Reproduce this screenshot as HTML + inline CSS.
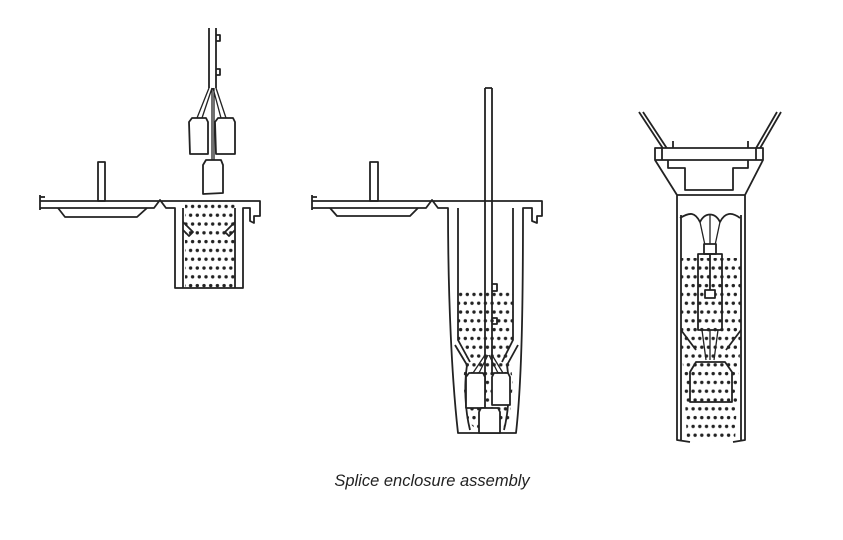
<!DOCTYPE html>
<html><head><meta charset="utf-8"><style>
html,body{margin:0;padding:0;background:#fff;}
svg{display:block}
</style></head><body>
<svg width="843" height="540" viewBox="0 0 843 540" xmlns="http://www.w3.org/2000/svg">
<defs>
<pattern id="g" x="0" y="0" width="13.4" height="17.6" patternUnits="userSpaceOnUse">
<circle cx="3" cy="4" r="1.7" fill="#222"/><circle cx="9.7" cy="4" r="1.7" fill="#222"/>
<circle cx="5" cy="12.8" r="1.7" fill="#222"/><circle cx="11.7" cy="12.8" r="1.7" fill="#222"/>
</pattern>
</defs>
<g fill="none" stroke="#222" stroke-width="1.8" stroke-linejoin="round">
<!-- FIGURE 1 -->
<rect x="185" y="201" width="50" height="87" fill="url(#g)" stroke="none"/>
<rect x="98" y="162" width="7" height="39"/>
<path d="M40,195 L40,210 M40,201 L260,201 L260,216 L254,216 L254,223 L250,221 L250,208 L243,208 L243,288 L175,288 L175,208 L166,208 L160,200 L154,208 L40,208"/>
<path d="M40,197 L45,197"/>
<path d="M58,208 L65,217 L137,217 L147,208"/>
<path d="M183,208 L183,288 M235,208 L235,288"/>
<path d="M183,222 L193,232 L189,236 L183,230 M235,222 L225,232 L229,236 L235,230"/>
<path d="M209,28 L209,88 M216,28 L216,88 M216,35 L220,35 L220,41 L216,41 M216,69 L220,69 L220,75 L216,75"/>
<path d="M209,88 L197,118 M212,88 L202,118 M213,88 L221,118 M216,88 L226,118 M212,88 L212,160 M214,88 L214,160" stroke-width="1.3"/>
<path d="M192,118 L206,118 L208,122 L208,154 L190,154 L189,122 Z"/>
<path d="M218,118 L233,118 L235,122 L235,154 L216,154 L215,122 Z"/>
<path d="M206,160 L221,160 L223,165 L223,193 L203,194 L203,165 Z"/>
<!-- FIGURE 2 -->
<path d="M458,292 L513,292 L513,340 L508,352 L513,380 L510,420 L500,433 L479,433 L467,420 L463,380 L467,352 L458,340 Z" fill="url(#g)" stroke="none"/>
<rect x="370" y="162" width="8" height="39"/>
<path d="M312,195 L312,210 M312,197 L317,197 M312,201 L542,201 L542,216 L537,216 L537,223 L532,221 L532,208 L523,208 C523,300 522,380 516,433 L458,433 C452,380 448,300 448,208 L438,208 L432,200 L426,208 L312,208"/>
<path d="M330,208 L337,216 L410,216 L418,208"/>
<path d="M458,208 L458,340 L470,362 M513,208 L513,340 L502,362"/>
<path d="M455,345 L467,365 C464,385 465,410 470,430 M518,345 L507,365 C510,385 509,410 504,430"/>
<path d="M485,88 L485,395 M492,88 L492,375 M485,88 L492,88" fill="#fff"/>
<path d="M492,284 L497,284 L497,291 L492,291 M492,318 L497,318 L497,324 L492,324"/>
<path d="M485,355 L473,373 M488,355 L479,373 M489,355 L498,373 M492,355 L503,373" stroke-width="1.3"/>
<path d="M469,373 L483,373 L485,377 L485,408 L466,408 L466,377 Z" fill="#fff"/>
<path d="M494,373 L508,373 L510,377 L510,405 L492,405 L492,377 Z" fill="#fff"/>
<path d="M481,408 L498,408 L500,412 L500,433 L479,433 L479,412 Z" fill="#fff"/>
<!-- FIGURE 3 -->
<path d="M681,258 L741,258 L741,340 L738,380 L735,442 L687,442 L684,380 L681,340 Z" fill="url(#g)" stroke="none"/>
<path d="M643,112 L668,150 M639,112 L664,150 M777,112 L755,150 M781,112 L759,150"/>
<path d="M673,141 L673,148 M748,141 L748,148"/>
<rect x="655" y="148" width="108" height="12" fill="#fff"/>
<path d="M662,148 L662,160 M756,148 L756,160"/>
<path d="M668,160 L668,168 L685,168 L685,190 L733,190 L733,168 L748,168 L748,160"/>
<path d="M655,160 L677,195 L745,195 L763,160 M677,195 L677,440 L690,442 M745,195 L745,440 L733,442 M681,215 L681,440 M741,215 L741,440"/>
<path d="M680,218 C690,212 695,212 700,222 C705,212 715,212 720,222 C725,212 732,212 740,218"/>
<path d="M700,222 L706,250 M720,222 L714,250 M710,215 L710,246" stroke-width="1.3"/>
<rect x="704" y="244" width="12" height="10" fill="#fff"/>
<path d="M698,254 L722,254 L722,330 L698,330 Z M710,254 L710,290" fill="none"/>
<rect x="705" y="290" width="10" height="8" fill="#fff"/>
<path d="M702,330 L706,360 M710,330 L710,360 M718,330 L714,360" stroke-width="1.3"/>
<path d="M681,330 L696,350 M741,330 L726,350"/>
<path d="M696,362 L725,362 L732,372 L732,402 L690,402 L690,372 Z"/>
</g>
<text x="432" y="486" text-anchor="middle" font-family="'Liberation Sans', sans-serif" font-style="italic" font-size="16.5" fill="#222">Splice enclosure assembly</text>
</svg>
</body></html>
